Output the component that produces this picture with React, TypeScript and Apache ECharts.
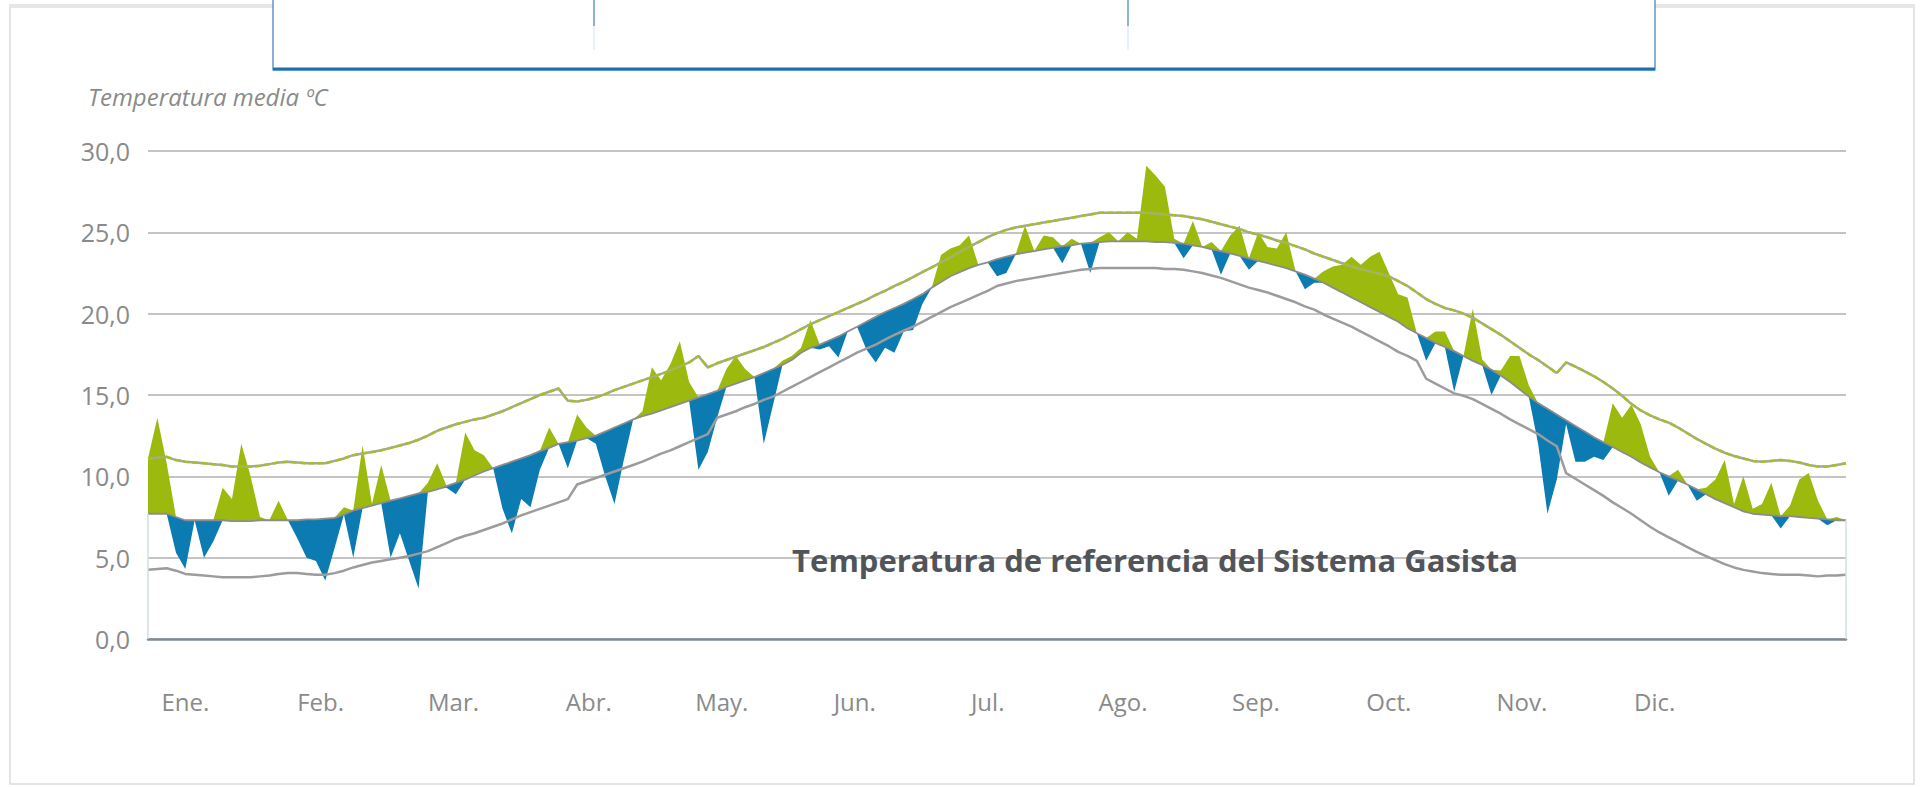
import React, { useEffect, useRef } from "react";
import * as echarts from "echarts";

// Sampling: one value every 2 days, day 0 .. day 364
const dayStep = 2;

const monthLabels = ["Ene.", "Feb.", "Mar.", "Abr.", "May.", "Jun.", "Jul.", "Ago.", "Sep.", "Oct.", "Nov.", "Dic."];
// day-of-year position of each month label on the axis
const monthLabelDays = [8, 37, 65.5, 94.5, 123, 151.5, 180, 209, 237.5, 266, 294.5, 323];

const yTicks = [0, 5, 10, 15, 20, 25, 30];

// Upper band (green dashed line)
const tempUpper = [
  11.1, 11.15, 11.2, 11.0, 10.9, 10.85, 10.8, 10.75, 10.7, 10.6,
  10.6, 10.6, 10.65, 10.75, 10.85, 10.9, 10.85, 10.8, 10.8, 10.8,
  10.95, 11.1, 11.3, 11.4, 11.5, 11.6, 11.75, 11.9, 12.05, 12.25,
  12.5, 12.8, 13.0, 13.2, 13.35, 13.5, 13.6, 13.8, 14.0, 14.25,
  14.5, 14.75, 15.0, 15.2, 15.4, 14.65, 14.6, 14.7, 14.85, 15.05,
  15.3, 15.5, 15.7, 15.9, 16.1, 16.3, 16.5, 16.75, 17.0, 17.4,
  16.7, 16.95, 17.15, 17.35, 17.55, 17.75, 17.95, 18.2, 18.45, 18.75,
  19.05, 19.35, 19.6, 19.85, 20.1, 20.35, 20.6, 20.85, 21.15, 21.4,
  21.7, 21.95, 22.25, 22.55, 22.85, 23.15, 23.45, 23.8, 24.1, 24.4,
  24.7, 24.95, 25.15, 25.3, 25.4, 25.5, 25.6, 25.7, 25.8, 25.9,
  26.0, 26.1, 26.2, 26.2, 26.2, 26.2, 26.2, 26.2, 26.15, 26.1,
  26.05, 26.0, 25.9, 25.8, 25.65, 25.5, 25.35, 25.2, 25.0, 24.85,
  24.7, 24.5, 24.35, 24.15, 23.95, 23.7, 23.5, 23.3, 23.1, 22.9,
  22.75, 22.6, 22.45, 22.3, 22.0, 21.7, 21.3, 20.9, 20.6, 20.35,
  20.2, 20.0, 19.75, 19.4, 19.05, 18.7, 18.3, 17.9, 17.5, 17.15,
  16.75, 16.35, 17.0, 16.75, 16.45, 16.15, 15.8, 15.4, 14.95, 14.45,
  14.05, 13.75, 13.5, 13.3, 13.0, 12.65, 12.3, 12.0, 11.7, 11.45,
  11.25, 11.1, 10.95, 10.9, 10.95, 11.0, 10.95, 10.85, 10.7, 10.6,
  10.6, 10.7, 10.8,
];

// Temperatura de referencia del Sistema Gasista
const tempReference = [
  7.7, 7.7, 7.7, 7.5, 7.3, 7.3, 7.3, 7.3, 7.3, 7.25,
  7.25, 7.25, 7.3, 7.3, 7.3, 7.3, 7.3, 7.35, 7.35, 7.4,
  7.45, 7.65, 7.9, 8.05, 8.2, 8.35, 8.5, 8.65, 8.8, 8.95,
  9.05, 9.2, 9.4, 9.6, 9.8, 10.05, 10.3, 10.5, 10.7, 10.9,
  11.1, 11.3, 11.55, 11.75, 12.0, 12.1, 12.2, 12.35, 12.5, 12.75,
  13.0, 13.25, 13.5, 13.7, 13.85, 14.05, 14.25, 14.45, 14.65, 14.85,
  15.05, 15.25, 15.5, 15.7, 15.9, 16.1, 16.35, 16.6, 16.85, 17.15,
  17.6, 17.9, 18.1, 18.35, 18.6, 18.9, 19.2, 19.5, 19.8, 20.1,
  20.35, 20.6, 20.9, 21.2, 21.6, 21.95, 22.3, 22.55, 22.8, 23.0,
  23.15, 23.35, 23.5, 23.65, 23.75, 23.85, 23.95, 24.05, 24.15, 24.2,
  24.3, 24.35, 24.4, 24.45, 24.45, 24.45, 24.45, 24.45, 24.4, 24.4,
  24.35, 24.3, 24.2, 24.1, 23.95, 23.85, 23.7, 23.55, 23.4, 23.25,
  23.1, 22.95, 22.8, 22.6, 22.4, 22.15, 21.9, 21.6, 21.3, 21.0,
  20.7, 20.4, 20.1, 19.8, 19.5, 19.1, 18.8, 18.5, 18.2, 17.95,
  17.7, 17.4, 17.1, 16.85, 16.55, 16.2, 15.8, 15.35, 14.9, 14.5,
  14.15, 13.8, 13.45, 13.1, 12.75, 12.4, 12.1, 11.8, 11.5, 11.2,
  10.85, 10.55, 10.25, 10.0, 9.75, 9.5, 9.2, 8.9, 8.6, 8.35,
  8.1, 7.85, 7.7, 7.65, 7.6, 7.55, 7.55, 7.5, 7.45, 7.4,
  7.35, 7.3, 7.3,
];

// Lower band (grey line)
const tempLower = [
  4.25, 4.3, 4.35, 4.2, 4.0, 3.95, 3.9, 3.85, 3.8, 3.8,
  3.8, 3.8, 3.85, 3.9, 4.0, 4.05, 4.05, 4.0, 3.95, 3.95,
  4.05, 4.2, 4.4, 4.55, 4.7, 4.8, 4.9, 5.0, 5.1, 5.25,
  5.4, 5.65, 5.9, 6.15, 6.35, 6.5, 6.7, 6.9, 7.1, 7.35,
  7.6, 7.8, 8.0, 8.2, 8.4, 8.6, 9.5, 9.7, 9.9, 10.1,
  10.3, 10.5, 10.7, 10.9, 11.15, 11.4, 11.6, 11.85, 12.1, 12.35,
  12.6, 13.6, 13.8, 14.0, 14.25, 14.45, 14.7, 14.9, 15.2, 15.5,
  15.8, 16.1, 16.4, 16.7, 17.0, 17.3, 17.6, 17.85, 18.1, 18.4,
  18.7, 18.95, 19.2, 19.5, 19.8, 20.1, 20.4, 20.65, 20.9, 21.15,
  21.4, 21.7, 21.85, 22.0, 22.1, 22.2, 22.3, 22.4, 22.5, 22.6,
  22.7, 22.75, 22.8, 22.8, 22.8, 22.8, 22.8, 22.8, 22.8, 22.75,
  22.75, 22.7, 22.6, 22.5, 22.35, 22.2, 22.0, 21.8, 21.6, 21.45,
  21.3, 21.1, 20.9, 20.7, 20.45, 20.25, 19.95, 19.7, 19.45, 19.2,
  18.9, 18.6, 18.3, 18.0, 17.65, 17.4, 17.1, 16.0, 15.7, 15.4,
  15.1, 14.95, 14.75, 14.45, 14.15, 13.85, 13.5, 13.2, 12.9, 12.6,
  12.2, 11.85, 10.2, 9.85, 9.5, 9.15, 8.8, 8.4, 8.05, 7.7,
  7.3, 6.9, 6.55, 6.25, 5.95, 5.65, 5.35, 5.1, 4.85, 4.6,
  4.4, 4.25, 4.15, 4.05, 4.0, 3.95, 3.95, 3.95, 3.9, 3.85,
  3.9, 3.9, 3.95,
];

// Observed mean temperature
const tempActual = [
  11.1, 13.6, 10.8, 5.3, 4.3, 7.3, 5.0, 6.0, 9.3, 8.6,
  12.0, 10.0, 7.5, 7.3, 8.5, 7.3, 6.2, 5.0, 4.8, 3.6,
  5.6, 8.1, 5.0, 11.9, 8.3, 10.7, 5.0, 6.5, 4.8, 3.1,
  9.6, 10.8, 9.3, 8.9, 12.7, 11.6, 11.3, 10.5, 8.0, 6.5,
  8.6, 8.1, 10.4, 13.0, 12.0, 10.5, 13.8, 13.0, 12.0, 10.0,
  8.3, 11.0, 13.5, 14.0, 16.7, 15.9, 16.9, 18.3, 15.8, 10.4,
  11.5, 13.6, 16.6, 17.4, 16.6, 16.1, 12.0, 14.4, 17.1, 17.4,
  17.9, 19.6, 17.8, 18.0, 17.3, 18.9, 19.2, 17.8, 17.0, 17.9,
  17.6, 18.9, 19.0, 20.6, 21.6, 23.6, 24.0, 24.2, 24.8, 23.0,
  23.15, 22.3, 22.5, 23.65, 25.4, 23.85, 24.8, 24.7, 23.1, 24.6,
  24.3, 22.5, 24.7, 25.0, 24.45, 25.0, 24.6, 29.1, 28.5, 27.8,
  24.6, 23.4, 25.7, 24.1, 24.4, 22.4, 24.8, 25.4, 22.7, 25.0,
  24.1, 24.0, 25.0, 22.6, 21.5, 21.9, 22.6, 22.9, 23.0, 23.5,
  23.0, 23.5, 23.8, 22.5, 21.2, 21.0, 18.8, 17.1, 18.9, 18.9,
  15.2, 17.4, 20.3, 17.2, 15.0, 16.5, 17.4, 17.4, 15.6, 12.0,
  7.7, 9.8, 13.2, 10.9, 10.9, 11.2, 11.0, 14.5, 13.6, 14.4,
  13.2, 11.2, 10.25, 8.8, 10.4, 9.5, 8.5, 9.3, 9.8, 11.0,
  8.3, 10.0, 8.0, 8.3, 9.6, 6.8, 8.2, 9.8, 10.2, 8.5,
  7.0, 7.5, 7.3,
];

const GREEN = "#9cb90d";
const BLUE = "#0b7bb1";
const FONT = "'Open Sans', 'Noto Sans', sans-serif";

export default function App() {
  const ref = useRef<HTMLDivElement>(null);

  useEffect(() => {
    if (!ref.current) return;
    document.body.style.overflow = "hidden";
    const chart = echarts.init(ref.current, undefined, { renderer: "svg" });

    const n = tempActual.length;
    const categories = tempActual.map((_, i) => String(i * dayStep));
    const lastDay = (n - 1) * dayStep;
    const baseVals = tempActual.map((t, i) => Math.min(t, tempReference[i]));
    const belowVals = tempActual.map((t, i) => +(tempReference[i] - Math.min(t, tempReference[i])).toFixed(3));
    const aboveVals = tempActual.map((t, i) => +(Math.max(t, tempReference[i]) - tempReference[i]).toFixed(3));

    const option: any = {
      animation: false,
      backgroundColor: "#ffffff",
      textStyle: { fontFamily: FONT },
      grid: { left: 148, right: 77, top: 151, bottom: 148, containLabel: false },
      xAxis: [
        {
          type: "category",
          data: categories,
          boundaryGap: false,
          axisLine: { show: true, lineStyle: { color: "#7e8b92", width: 2.5 } },
          axisTick: { show: false },
          axisLabel: { show: false },
          splitLine: { show: false },
        },
        {
          type: "value",
          min: 0,
          max: lastDay,
          position: "bottom",
          axisLine: { show: false },
          axisTick: { show: false },
          splitLine: { show: false },
          axisLabel: {
            customValues: monthLabelDays,
            margin: 50,
            fontSize: 24,
            color: "#8a8a8a",
            fontFamily: FONT,
            formatter: (v: number) => {
              let best = 0;
              monthLabelDays.forEach((d, i) => {
                if (Math.abs(d - v) < Math.abs(monthLabelDays[best] - v)) best = i;
              });
              return monthLabels[best];
            },
          },
        },
      ],
      yAxis: {
        type: "value",
        min: yTicks[0],
        max: yTicks[yTicks.length - 1],
        interval: yTicks[1] - yTicks[0],
        axisLine: { show: false },
        axisTick: { show: false },
        axisLabel: {
          fontSize: 25,
          color: "#8a8a8a",
          margin: 18,
          fontFamily: FONT,
          formatter: (v: number) => v.toFixed(1).replace(".", ","),
        },
        splitLine: { lineStyle: { color: "#c4c4c4", width: 2 } },
      },
      graphic: [
        {
          type: "rect",
          shape: { x: 10, y: 5, width: 1904, height: 779 },
          style: { fill: "none", stroke: "#dcdcdc", lineWidth: 1.5 },
          silent: true,
        },
        {
          type: "line",
          shape: { x1: 10, y1: 6, x2: 1914, y2: 6 },
          style: { stroke: "#e6e6e6", lineWidth: 4 },
          silent: true,
        },
        {
          type: "rect",
          shape: { x: 273, y: -4, width: 1382, height: 74 },
          style: { fill: "#ffffff", stroke: "#3a7fc0", lineWidth: 1.2 },
          silent: true,
        },
        {
          type: "line",
          shape: { x1: 273, y1: 69, x2: 1655, y2: 69 },
          style: { stroke: "#1d6fb6", lineWidth: 3 },
          silent: true,
        },
        {
          type: "line",
          shape: { x1: 594, y1: 0, x2: 594, y2: 26 },
          style: { stroke: "#8db5c9", lineWidth: 2 },
          silent: true,
        },
        {
          type: "line",
          shape: { x1: 594, y1: 26, x2: 594, y2: 50 },
          style: { stroke: "#e8f1f5", lineWidth: 2 },
          silent: true,
        },
        {
          type: "line",
          shape: { x1: 1128, y1: 0, x2: 1128, y2: 26 },
          style: { stroke: "#8db5c9", lineWidth: 2 },
          silent: true,
        },
        {
          type: "line",
          shape: { x1: 1128, y1: 26, x2: 1128, y2: 50 },
          style: { stroke: "#e8f1f5", lineWidth: 2 },
          silent: true,
        },
        {
          type: "text",
          x: 88,
          y: 96,
          style: {
            text: "Temperatura media ºC",
            fill: "#8a8a8a",
            fontSize: 24,
            fontStyle: "italic",
            fontFamily: FONT,
            verticalAlign: "middle",
            align: "left",
          },
        },
        {
          type: "text",
          x: 1155,
          y: 560,
          z: 10,
          style: {
            text: "Temperatura de referencia del Sistema Gasista",
            fill: "#515559",
            fontSize: 31,
            fontWeight: "bold",
            fontFamily: FONT,
            verticalAlign: "middle",
            align: "center",
          },
        },
      ],
      series: [
        {
          name: "base",
          type: "line",
          stack: "dev",
          data: baseVals,
          showSymbol: false,
          lineStyle: { width: 0, opacity: 0 },
          silent: true,
          z: 2,
        },
        {
          name: "Por debajo",
          type: "line",
          stack: "dev",
          data: belowVals,
          showSymbol: false,
          lineStyle: { width: 0, opacity: 0 },
          areaStyle: { color: BLUE, opacity: 1 },
          silent: true,
          z: 2,
        },
        {
          name: "Por encima",
          type: "line",
          stack: "dev",
          data: aboveVals,
          showSymbol: false,
          lineStyle: { width: 0, opacity: 0 },
          areaStyle: { color: GREEN, opacity: 1 },
          silent: true,
          z: 2,
        },
        {
          name: "Temperatura de referencia",
          type: "line",
          data: tempReference,
          showSymbol: false,
          lineStyle: { color: "#8c8c8c", width: 1.8 },
          z: 3,
          markLine: {
            silent: true,
            symbol: "none",
            label: { show: false },
            lineStyle: { color: "#cfe1e1", width: 1.5, type: "solid" },
            data: [
              [{ coord: [0, 0] }, { coord: [0, tempReference[0]] }],
              [{ coord: [n - 1, 0] }, { coord: [n - 1, tempReference[n - 1]] }],
            ],
          },
        },
        {
          name: "Inferior",
          type: "line",
          data: tempLower,
          showSymbol: false,
          lineStyle: { color: "#9c9c9c", width: 2.5 },
          z: 3,
        },
        {
          name: "Superior base",
          type: "line",
          data: tempUpper,
          showSymbol: false,
          lineStyle: { color: "#a5a5a5", width: 2.5 },
          z: 3,
        },
        {
          name: "Superior",
          type: "line",
          data: tempUpper,
          showSymbol: false,
          lineStyle: { color: "#a3c02a", width: 2.5, type: [6, 3] },
          z: 4,
        },
      ],
    };

    chart.setOption(option);
    return () => {
      chart.dispose();
    };
  }, []);

  return (
    <div
      ref={ref}
      style={{ position: "absolute", left: 0, top: 0, width: "1923px", height: "787px" }}
    />
  );
}
